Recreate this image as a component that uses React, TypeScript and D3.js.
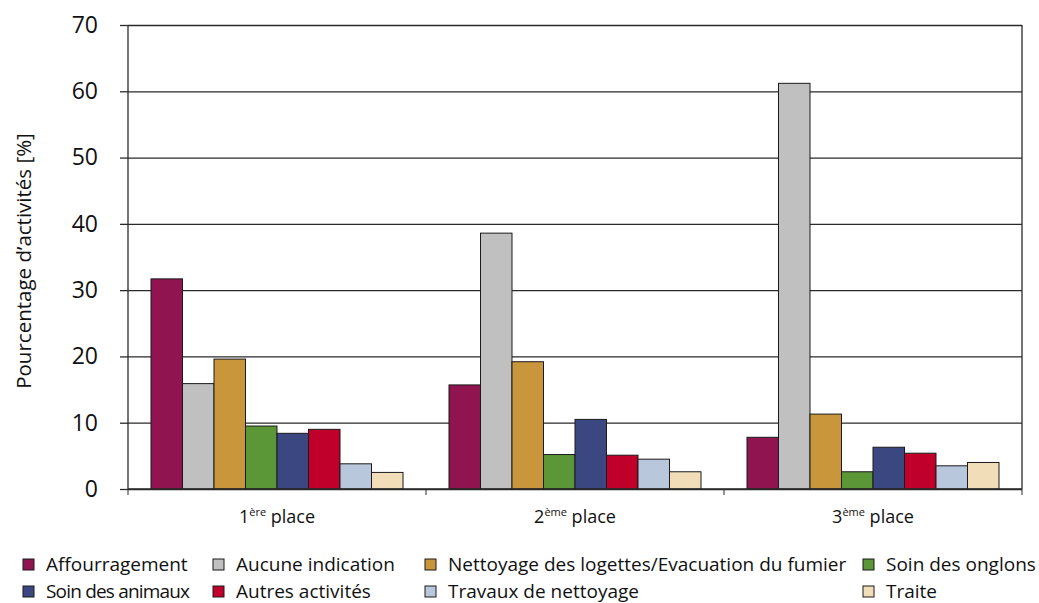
import React, { useRef, useEffect } from 'react';
import * as d3 from 'd3';

// Data
const places = ['1', '2', '3'];
const placeSup = ['ère', 'ème', 'ème'];
const series = [
  'Affourragement',
  'Aucune indication',
  'Nettoyage des logettes/Evacuation du fumier',
  'Soin des onglons',
  'Soin des animaux',
  'Autres activités',
  'Travaux de nettoyage',
  'Traite',
];
const colors = ['#8F1450', '#C0C0C0', '#C9963C', '#5B9737', '#3A4781', '#C0002A', '#B9C7DD', '#F1DEB9'];
const place1 = [31.7, 15.9, 19.6, 9.5, 8.4, 9.0, 3.8, 2.5];
const place2 = [15.7, 38.6, 19.2, 5.2, 10.5, 5.1, 4.5, 2.6];
const place3 = [7.8, 61.2, 11.3, 2.6, 6.3, 5.4, 3.5, 4.0];
const yTicks = [0, 10, 20, 30, 40, 50, 60, 70];

const FONT = '"Open Sans", "Noto Sans", sans-serif';

const App = () => {
  const svgRef = useRef<SVGSVGElement>(null);

  useEffect(() => {
    const W = 1039;
    const H = 603;
    const margin = { top: 25, left: 128, right: 17, bottom: 114 };
    const width = W - margin.left - margin.right;
    const height = H - margin.top - margin.bottom;

    const root = d3.select(svgRef.current);
    root.selectAll('*').remove();
    root.attr('width', W).attr('height', H);

    const svg = root.append('g').attr('transform', `translate(${margin.left},${margin.top})`);

    const values = [place1, place2, place3];

    // Scales
    const x0 = d3.scaleBand<string>().domain(places).range([0, width]).padding(0);
    const x1 = d3.scaleBand<string>().domain(series).range([0, x0.bandwidth()]).paddingInner(0).paddingOuter(0.73);
    const y = d3.scaleLinear().domain([0, 70]).range([height, 0]);

    // Gridlines
    svg.append('g')
      .call(d3.axisLeft(y).tickValues(yTicks).tickSize(-width).tickFormat(() => ''))
      .call(g => g.select('.domain').remove())
      .call(g => g.selectAll('line').attr('stroke', '#2a2a2a').attr('stroke-width', 1.3));

    // Y axis ticks + labels
    svg.append('g')
      .call(d3.axisLeft(y).tickValues(yTicks).tickSize(8).tickPadding(22).tickFormat(d3.format('d')))
      .call(g => g.select('.domain').remove())
      .call(g => g.selectAll('line').attr('stroke', '#2a2a2a').attr('stroke-width', 1.3))
      .call(g => g.selectAll('text')
        .attr('font-family', FONT)
        .attr('font-size', 23)
        .attr('fill', '#111'));

    // Bars
    const groups = svg.append('g')
      .selectAll('g')
      .data(places)
      .join('g')
      .attr('transform', d => `translate(${x0(d)},0)`);

    groups.selectAll('rect')
      .data((d, i) => values[i].map((v, j) => ({ key: series[j], v, c: colors[j] })))
      .join('rect')
      .attr('x', d => x1(d.key)!)
      .attr('y', d => y(d.v))
      .attr('width', x1.bandwidth())
      .attr('height', d => height - y(d.v))
      .attr('fill', d => d.c)
      .attr('stroke', '#1a1a1a')
      .attr('stroke-width', 1);

    // Frame: left axis, right border
    svg.append('line').attr('x1', 0).attr('x2', 0).attr('y1', 0).attr('y2', height)
      .attr('stroke', '#2a2a2a').attr('stroke-width', 1.3);
    svg.append('line').attr('x1', width).attr('x2', width).attr('y1', 0).attr('y2', height)
      .attr('stroke', '#2a2a2a').attr('stroke-width', 1.3);

    // X axis
    const xAxis = svg.append('g').attr('transform', `translate(0,${height})`);
    xAxis.append('line').attr('x1', 0).attr('x2', width).attr('stroke', '#2a2a2a').attr('stroke-width', 1.3);
    xAxis.selectAll('line.tick')
      .data(d3.range(places.length + 1))
      .join('line')
      .attr('class', 'tick')
      .attr('x1', i => i * x0.step())
      .attr('x2', i => i * x0.step())
      .attr('y1', 0)
      .attr('y2', 6)
      .attr('stroke', '#2a2a2a');

    const labels = xAxis.selectAll('text.cat')
      .data(places)
      .join('text')
      .attr('class', 'cat')
      .attr('x', d => x0(d)! + x0.bandwidth() / 2)
      .attr('y', 34)
      .attr('text-anchor', 'middle')
      .attr('font-family', FONT)
      .attr('font-size', 18)
      .attr('fill', '#111');
    labels.append('tspan').text(d => d);
    labels.append('tspan').attr('font-size', 11).attr('dy', -7).text((d, i) => placeSup[i]);
    labels.append('tspan').attr('dy', 7).text(' place');

    // Y label
    root.append('text')
      .attr('transform', `translate(31,261) rotate(-90)`)
      .attr('text-anchor', 'middle')
      .attr('font-family', FONT)
      .attr('font-size', 20.5)
      .attr('fill', '#111')
      .text('Pourcentage d’activités [%]');

    // Legend
    const colX = [23, 213, 425, 863];
    const rowY = [559, 586];
    const legend = root.append('g')
      .selectAll('g')
      .data(series)
      .join('g')
      .attr('transform', (d, i) => `translate(${colX[i % 4]},${rowY[Math.floor(i / 4)]})`);
    legend.append('rect')
      .attr('width', 11)
      .attr('height', 11)
      .attr('fill', (d, i) => colors[i])
      .attr('stroke', '#1a1a1a')
      .attr('stroke-width', 1);
    legend.append('text')
      .attr('x', 23)
      .attr('y', 11.5)
      .attr('font-family', FONT)
      .attr('font-size', 19)
      .attr('textLength', (d, i) => (i === 4 ? 144 : null) as any)
      .attr('fill', '#111')
      .text(d => d);
  }, []);

  return (
    <svg ref={svgRef} style={{ position: 'absolute', left: 0, top: 0, background: '#fff' }}></svg>
  );
};

export default App;
